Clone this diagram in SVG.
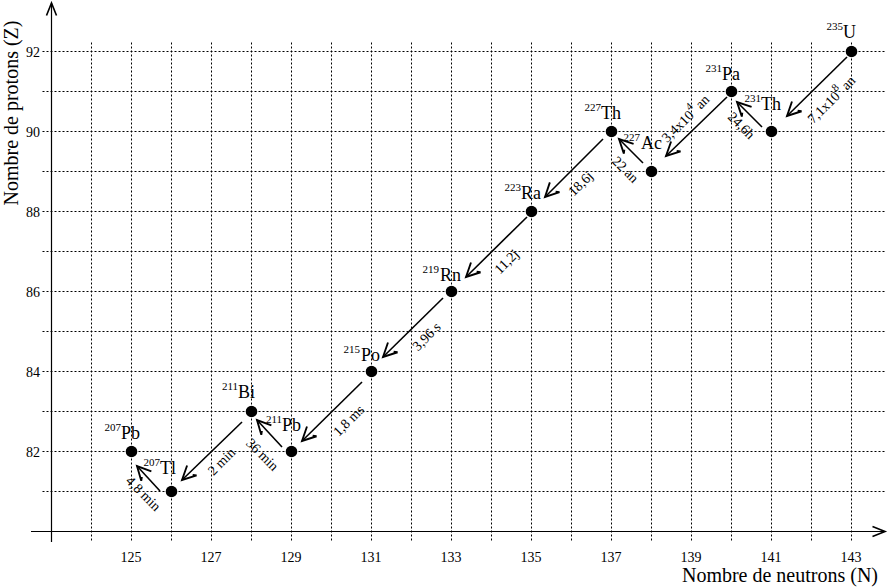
<svg xmlns="http://www.w3.org/2000/svg" width="888" height="587" viewBox="0 0 888 587" font-family="'Liberation Serif', 'DejaVu Serif', serif">
<style>
.grid{stroke:#000;stroke-width:1;stroke-dasharray:2,2;fill:none}
.axis{stroke:#000;stroke-width:1.2;fill:none}
.arr{stroke:#000;stroke-width:1.6;fill:none;marker-end:url(#ah)}
.dot{fill:#000}
text{font-family:'Liberation Serif','DejaVu Serif',serif;fill:#000}
.tick{font-size:14px}
.sym{font-size:18px}
.sup{font-size:11px}
.hl{font-size:14px}
.title{font-size:20px}
</style>
<defs>
<marker id="ah" markerUnits="userSpaceOnUse" markerWidth="20" markerHeight="20" viewBox="-14 -8 16 16" refX="0" refY="0" orient="auto">
<path d="M-11,-5.5 L0,0 L-11,5.5 M-11,-5.5 L-9,-3" stroke="#000" stroke-width="1.5" fill="none"/>
</marker>
<marker id="axh" markerUnits="userSpaceOnUse" markerWidth="20" markerHeight="20" viewBox="-14 -8 16 16" refX="0" refY="0" orient="auto">
<path d="M-10,-4 L0,0 L-10,4" stroke="#000" stroke-width="1.3" fill="none"/>
</marker>
</defs>
<g id="grid" transform="translate(0.5,0.5)">
<line class="grid" x1="91" y1="42" x2="91" y2="541"/>
<line class="grid" x1="131" y1="42" x2="131" y2="541"/>
<line class="grid" x1="171" y1="42" x2="171" y2="541"/>
<line class="grid" x1="211" y1="42" x2="211" y2="541"/>
<line class="grid" x1="251" y1="42" x2="251" y2="541"/>
<line class="grid" x1="291" y1="42" x2="291" y2="541"/>
<line class="grid" x1="331" y1="42" x2="331" y2="541"/>
<line class="grid" x1="371" y1="42" x2="371" y2="541"/>
<line class="grid" x1="411" y1="42" x2="411" y2="541"/>
<line class="grid" x1="451" y1="42" x2="451" y2="541"/>
<line class="grid" x1="491" y1="42" x2="491" y2="541"/>
<line class="grid" x1="531" y1="42" x2="531" y2="541"/>
<line class="grid" x1="571" y1="42" x2="571" y2="541"/>
<line class="grid" x1="611" y1="42" x2="611" y2="541"/>
<line class="grid" x1="651" y1="42" x2="651" y2="541"/>
<line class="grid" x1="691" y1="42" x2="691" y2="541"/>
<line class="grid" x1="731" y1="42" x2="731" y2="541"/>
<line class="grid" x1="771" y1="42" x2="771" y2="541"/>
<line class="grid" x1="811" y1="42" x2="811" y2="541"/>
<line class="grid" x1="851" y1="42" x2="851" y2="541"/>
<line class="grid" x1="42" y1="51" x2="884" y2="51"/>
<line class="grid" x1="42" y1="91" x2="884" y2="91"/>
<line class="grid" x1="42" y1="131" x2="884" y2="131"/>
<line class="grid" x1="42" y1="171" x2="884" y2="171"/>
<line class="grid" x1="42" y1="211" x2="884" y2="211"/>
<line class="grid" x1="42" y1="251" x2="884" y2="251"/>
<line class="grid" x1="42" y1="291" x2="884" y2="291"/>
<line class="grid" x1="42" y1="331" x2="884" y2="331"/>
<line class="grid" x1="42" y1="371" x2="884" y2="371"/>
<line class="grid" x1="42" y1="411" x2="884" y2="411"/>
<line class="grid" x1="42" y1="451" x2="884" y2="451"/>
<line class="grid" x1="42" y1="491" x2="884" y2="491"/>
</g>
<g id="axes">
<line class="axis" x1="51.5" y1="542" x2="51.5" y2="3" marker-end="url(#axh)"/>
<line class="axis" x1="31" y1="531.5" x2="885" y2="531.5" marker-end="url(#axh)"/>
<g class="tick" text-anchor="middle">
<text x="131" y="562">125</text>
<text x="211" y="562">127</text>
<text x="291" y="562">129</text>
<text x="371" y="562">131</text>
<text x="451" y="562">133</text>
<text x="531" y="562">135</text>
<text x="611" y="562">137</text>
<text x="691" y="562">139</text>
<text x="771" y="562">141</text>
<text x="851" y="562">143</text>
</g>
<g class="tick" text-anchor="end">
<text x="40" y="57">92</text>
<text x="40" y="137">90</text>
<text x="40" y="217">88</text>
<text x="40" y="297">86</text>
<text x="40" y="377">84</text>
<text x="40" y="457">82</text>
</g>
<text class="title" x="878" y="582" text-anchor="end">Nombre de neutrons (N)</text>
<text class="title" transform="translate(18,113) rotate(-90)" text-anchor="middle">Nombre de protons (Z)</text>
</g>
<g id="connectors">
<line class="arr" x1="847" y1="57" x2="787" y2="116"/>
<line class="arr" x1="762" y1="127" x2="737" y2="102"/>
<line class="arr" x1="727" y1="97" x2="666" y2="156"/>
<line class="arr" x1="643" y1="163" x2="619" y2="139"/>
<line class="arr" x1="603" y1="139" x2="545" y2="197"/>
<line class="arr" x1="527" y1="217" x2="466" y2="277"/>
<line class="arr" x1="443" y1="298" x2="383" y2="357"/>
<line class="arr" x1="362" y1="382" x2="302" y2="441"/>
<line class="arr" x1="282" y1="447" x2="257" y2="420"/>
<line class="arr" x1="242" y1="422" x2="182" y2="480"/>
<line class="arr" x1="160" y1="491" x2="137" y2="466"/>
<g class="hl" text-anchor="middle">
<text x="832" y="104" transform="rotate(-45 832 100)">7,1x10<tspan font-size="11" dy="-7">8</tspan><tspan dy="7"> an</tspan></text>
<text x="741" y="130" transform="rotate(45 741 126)">24,6h</text>
<text x="686" y="123" transform="rotate(-45 686 119)">3,4x10<tspan font-size="11" dy="-7">4</tspan><tspan dy="7"> an</tspan></text>
<text x="625" y="174" transform="rotate(45 625 170)">22 an</text>
<text x="581" y="188" transform="rotate(-45 581 184)">18,6j</text>
<text x="507" y="266" transform="rotate(-45 507 262)">11,2j</text>
<text x="427" y="341" transform="rotate(-45 427 337)">3,96 s</text>
<text x="349" y="425" transform="rotate(-45 349 421)">1,8 ms</text>
<text x="262" y="459" transform="rotate(45 262 455)">36 min</text>
<text x="222" y="466" transform="rotate(-45 222 462)">2 min</text>
<text x="143" y="498" transform="rotate(45 143 494)">4,8 min</text>
</g>
</g>
<g id="U235"><circle class="dot" cx="851.5" cy="51.5" r="5.8"/><text class="sup" x="843" y="30" text-anchor="end">235</text><text class="sym" x="843" y="38">U</text></g>
<g id="Th231"><circle class="dot" cx="771.5" cy="131.5" r="5.8"/><text class="sup" x="761" y="102" text-anchor="end">231</text><text class="sym" x="761" y="110">Th</text></g>
<g id="Pa231"><circle class="dot" cx="731.5" cy="91.5" r="5.8"/><text class="sup" x="722" y="72" text-anchor="end">231</text><text class="sym" x="722" y="80">Pa</text></g>
<g id="Ac227"><circle class="dot" cx="651.5" cy="171.5" r="5.8"/><text class="sup" x="640" y="141" text-anchor="end">227</text><text class="sym" x="641" y="149">Ac</text></g>
<g id="Th227"><circle class="dot" cx="611.5" cy="131.5" r="5.8"/><text class="sup" x="601" y="111" text-anchor="end">227</text><text class="sym" x="601" y="119">Th</text></g>
<g id="Ra223"><circle class="dot" cx="531.5" cy="211.5" r="5.8"/><text class="sup" x="521" y="191" text-anchor="end">223</text><text class="sym" x="521" y="199">Ra</text></g>
<g id="Rn219"><circle class="dot" cx="451.5" cy="291.5" r="5.8"/><text class="sup" x="439" y="273" text-anchor="end">219</text><text class="sym" x="440" y="281">Rn</text></g>
<g id="Po215"><circle class="dot" cx="371.5" cy="371.5" r="5.8"/><text class="sup" x="360" y="353" text-anchor="end">215</text><text class="sym" x="361" y="361">Po</text></g>
<g id="Pb211"><circle class="dot" cx="291.5" cy="451.5" r="5.8"/><text class="sup" x="282" y="423" text-anchor="end">211</text><text class="sym" x="282" y="431">Pb</text></g>
<g id="Bi211"><circle class="dot" cx="251.5" cy="411.5" r="5.8"/><text class="sup" x="238" y="390" text-anchor="end">211</text><text class="sym" x="238" y="398">Bi</text></g>
<g id="Tl207"><circle class="dot" cx="171.5" cy="491.5" r="5.8"/><text class="sup" x="160" y="466" text-anchor="end">207</text><text class="sym" x="160" y="474">Tl</text></g>
<g id="Pb207"><circle class="dot" cx="131.5" cy="451.5" r="5.8"/><text class="sup" x="121" y="431" text-anchor="end">207</text><text class="sym" x="121" y="439">Pb</text></g>
</svg>
